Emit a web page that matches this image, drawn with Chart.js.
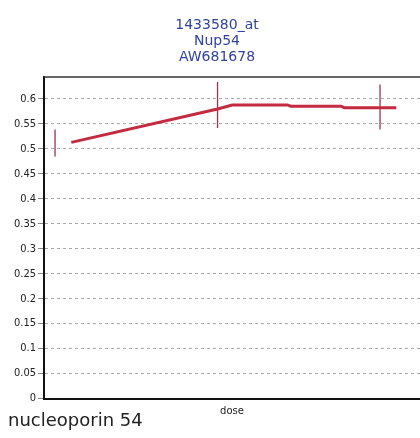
<!DOCTYPE html>
<html>
<head>
<meta charset="utf-8">
<script src="https://cdn.jsdelivr.net/npm/chart.js@4"></script>
<style>
  html, body { margin: 0; padding: 0; background: #fff; }
  #wrap { width: 420px; height: 438px; }
</style>
</head>
<body>
<div id="wrap"><canvas id="graph"></canvas></div>
<script>
// chart values
const titleLines = ['1433580_at', 'Nup54', 'AW681678'];
const geneName = 'nucleoporin 54';
const xLabel = 'dose';

// error bars at each dose
const doseX = [0, 1, 2];
const errLow = [0.485, 0.542, 0.539];
const errHigh = [0.539, 0.634, 0.629];

// the red mean line
const lineX = [0.1, 1.0, 1.09, 1.43, 1.45, 1.76, 1.78, 2.1];
const lineY = [0.513, 0.580, 0.588, 0.588, 0.5855, 0.5855, 0.5825, 0.5825];

const yTicksMax = 0.644;

const lineData = lineX.map((x, i) => ({x: x, y: lineY[i]}));

const errSets = doseX.map((x, i) => ({
    data: [{x: x, y: errLow[i]}, {x: x, y: errHigh[i]}],
    showLine: true,
    borderColor: '#9e3350',
    borderWidth: 1.3,
    pointRadius: 0,
    order: 1
}));

// titles, bottom text and top frame line
const textPlugin = {
    id: 'texts',
    afterDraw(chart) {
        const c = chart.ctx;
        const a = chart.chartArea;
        c.save();
        c.strokeStyle = '#333';
        c.lineWidth = 1.5;
        c.beginPath();
        c.moveTo(a.left, a.top);
        c.lineTo(a.right, a.top);
        c.stroke();

        c.fillStyle = '#30439f';
        c.font = '14px "DejaVu Sans"';
        c.textAlign = 'center';
        c.textBaseline = 'middle';
        titleLines.forEach((t, i) => c.fillText(t, 217, 25 + i * 16));

        c.fillStyle = '#222';
        c.font = '10px "DejaVu Sans"';
        c.fillText(xLabel, 232, 411);

        c.textAlign = 'left';
        c.font = '18px "DejaVu Sans"';
        c.fillText(geneName, 8, 421);
        c.restore();
    }
};

const ctx = document.getElementById('graph').getContext('2d');
const nupChart = new Chart(ctx, {
    type: 'scatter',
    data: {
        datasets: [{
            data: lineData,
            showLine: true,
            borderColor: '#c42a40',
            borderWidth: 3,
            pointRadius: 0,
            tension: 0,
            order: 0
        }].concat(errSets)
    },
    options: {
        responsive: true,
        maintainAspectRatio: false,
        animation: false,
        layout: { padding: { top: 77, left: 0, right: 0, bottom: 0 } },
        scales: {
            x: {
                type: 'linear',
                min: -0.068,
                max: 2.246,
                ticks: { display: false },
                grid: { display: false },
                border: { display: true, color: '#111', width: 2 },
                afterFit: (s) => { s.height = 39.5; }
            },
            y: {
                min: 0,
                max: yTicksMax,
                ticks: {
                    stepSize: 0.05,
                    includeBounds: false,
                    padding: 2,
                    color: '#222',
                    font: { family: '"Liberation Sans Narrow", "DejaVu Sans Condensed", sans-serif', size: 11 },
                    callback: (v) => String(Math.round(v * 100) / 100)
                },
                grid: { color: '#aaa', tickLength: 6, tickColor: '#888' },
                border: { display: true, color: '#111', width: 2, dash: [3, 3] },
                afterFit: (s) => { s.width = 44; }
            }
        },
        plugins: {
            legend: { display: false },
            tooltip: { enabled: false }
        }
    },
    plugins: [textPlugin]
});
</script>
</body>
</html>
